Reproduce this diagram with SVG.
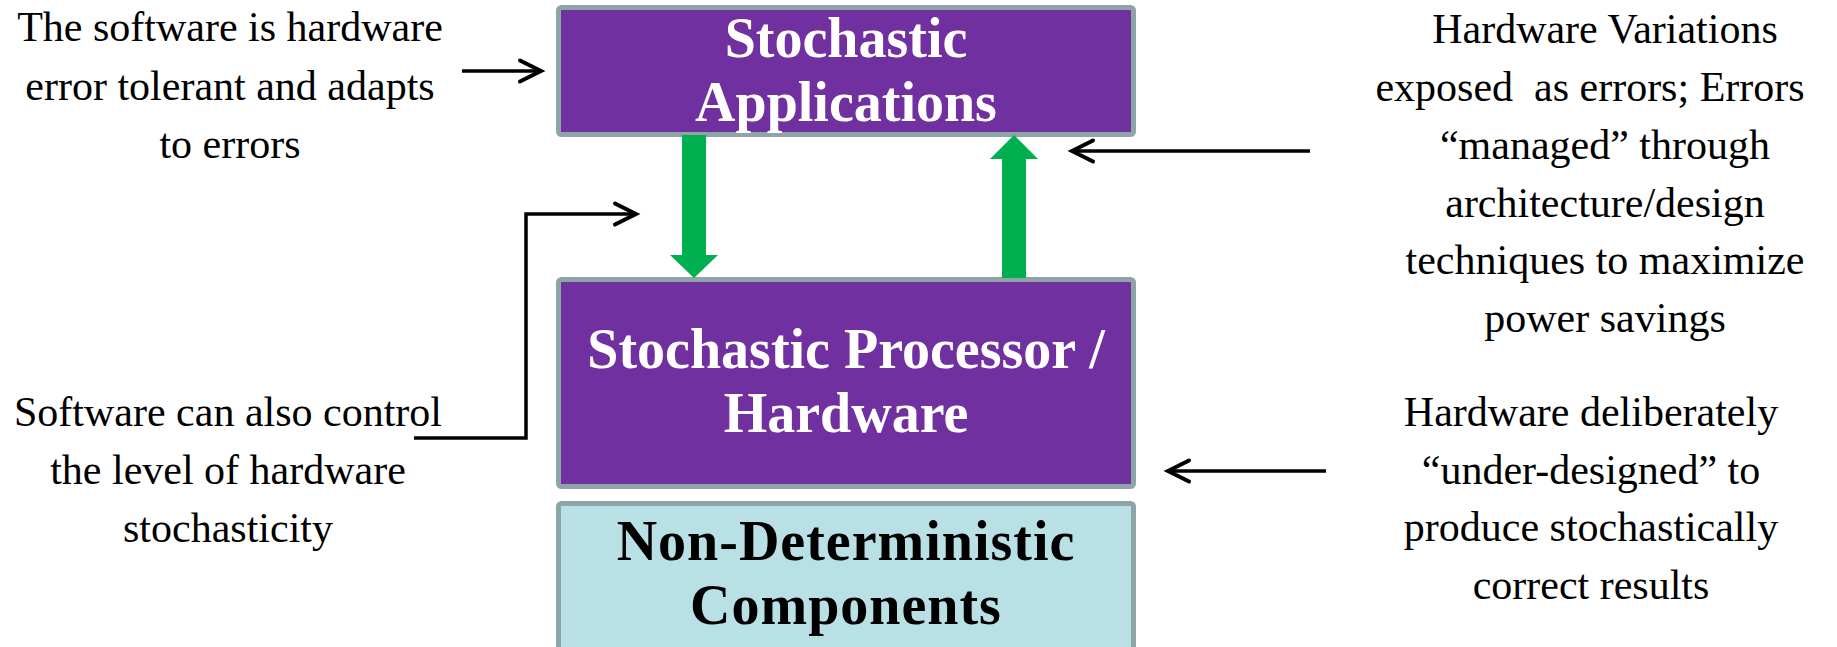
<svg xmlns="http://www.w3.org/2000/svg" width="1837" height="647" viewBox="0 0 1837 647">
  <style>
    .box { stroke: #8ea5a8; stroke-width: 5; }
    .purple { fill: #7030a0; }
    .cyan { fill: #b9e0e4; }
    .title { font-family: "Liberation Serif", "Times New Roman", serif; font-weight: bold; font-size: 56px; text-anchor: middle; }
    .white { fill: #ffffff; }
    .dark { fill: #000000; }
    .note { font-family: "Liberation Serif", "Times New Roman", serif; font-size: 42px; fill: #000000; text-anchor: middle; white-space: pre; }
    .link { fill: none; stroke: #000000; stroke-width: 3.5; marker-end: url(#chevron); }
    .flow { fill: #00b050; }
  </style>
  <defs>
    <marker id="chevron" markerUnits="userSpaceOnUse" viewBox="-24 -13 28 26" refX="0" refY="0" markerWidth="28" markerHeight="26" orient="auto" overflow="visible">
      <path d="M-21,-10.5 L0,0 L-21,10.5" fill="none" stroke="#000000" stroke-width="4" stroke-linecap="round" stroke-linejoin="miter"/>
    </marker>
  </defs>

  <rect width="1837" height="647" fill="#ffffff"/>

  <g id="stochastic-applications">
    <rect class="box purple" x="558.5" y="7.5" width="575" height="127" rx="3"/>
    <text class="title white" x="846" y="57">Stochastic</text>
    <text class="title white" x="846" y="121">Applications</text>
  </g>

  <g id="stochastic-processor">
    <rect class="box purple" x="558.5" y="279.5" width="575" height="207" rx="3"/>
    <text class="title white" x="846" y="368">Stochastic Processor /</text>
    <text class="title white" x="846" y="432">Hardware</text>
  </g>

  <g id="non-deterministic-components">
    <rect class="box cyan" x="558.5" y="503.5" width="575" height="150" rx="3"/>
    <text class="title dark" x="846" y="560" letter-spacing="1">Non-Deterministic</text>
    <text class="title dark" x="846" y="624" letter-spacing="1">Components</text>
  </g>

  <g id="note-error-tolerant">
    <text class="note" x="230" y="41">The software is hardware</text>
    <text class="note" x="230" y="100">error tolerant and adapts</text>
    <text class="note" x="230" y="158">to errors</text>
  </g>

  <g id="note-software-control">
    <text class="note" x="228" y="426">Software can also control</text>
    <text class="note" x="228" y="484">the level of hardware</text>
    <text class="note" x="228" y="542">stochasticity</text>
  </g>

  <g id="note-variations">
    <text class="note" x="1605" y="43">Hardware Variations</text>
    <text class="note" x="1590" y="101">exposed  as errors; Errors</text>
    <text class="note" x="1605" y="159">“managed” through</text>
    <text class="note" x="1605" y="217">architecture/design</text>
    <text class="note" x="1605" y="274">techniques to maximize</text>
    <text class="note" x="1605" y="332">power savings</text>
  </g>

  <g id="note-under-designed">
    <text class="note" x="1591" y="426">Hardware deliberately</text>
    <text class="note" x="1591" y="484">“under-designed” to</text>
    <text class="note" x="1591" y="541">produce stochastically</text>
    <text class="note" x="1591" y="599">correct results</text>
  </g>

  <g id="connectors">
    <!-- block arrows between the application and processor layers -->
    <polygon class="flow" points="682,135 706,135 706,255 718,255 694,278 670,255 682,255"/>
    <polygon class="flow" points="1002,278 1026,278 1026,159 1038,159 1014,135 990,159 1002,159"/>
    <!-- annotation pointers -->
    <path class="link" d="M462,71 L541,71"/>
    <path class="link" d="M414,438 L526,438 L526,214 L636,214"/>
    <path class="link" d="M1310,151 L1072,151"/>
    <path class="link" d="M1326,471 L1168,471"/>
  </g>
</svg>
